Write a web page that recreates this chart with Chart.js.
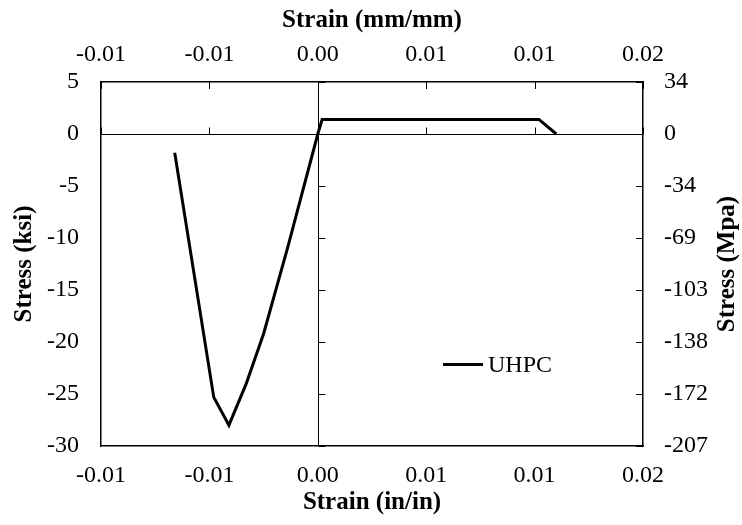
<!DOCTYPE html>
<html>
<head>
<meta charset="utf-8">
<script src="https://cdn.jsdelivr.net/npm/chart.js@4"></script>
<style>
  body { margin: 0; background: #fff; }
  canvas { display: block; }
</style>
</head>
<body>
<canvas id="stressChart" width="742" height="525"></canvas>
<script>
// UHPC stress-strain curve (strain in in/in, stress in ksi)
const strain = [-0.0066, -0.0048, -0.0041, -0.0033, -0.0025, -0.0014, 0, 0.0002, 0.0102, 0.011];
const stress = [-1.8, -25.3, -28.0, -24.0, -19.2, -11.0, 0, 1.4, 1.4, 0];

const strainTickLabels = ['-0.01', '-0.01', '0.00', '0.01', '0.01', '0.02'];
const ksiTickLabels = ['-30', '-25', '-20', '-15', '-10', '-5', '0', '5'];
const mpaTickLabels = ['-207', '-172', '-138', '-103', '-69', '-34', '0', '34'];

const serif = "'Liberation Serif', 'Times New Roman', serif";
const tickFont = { family: serif, size: 24 };
const titleFont = { family: serif, size: 25, weight: 'bold', lineHeight: 1.1 };
const frame = { display: true, color: '#000', width: 1.5 };

// zero lines with inner tick marks, the right title (reads bottom to top) and the legend
const axisMarks = {
    id: 'axisMarks',
    beforeDatasetsDraw(chart) {
        const { ctx, chartArea: a, scales: { x, y } } = chart;
        const x0 = Math.round(x.getPixelForValue(0)) + 0.5;
        const y0 = Math.round(y.getPixelForValue(0)) + 0.5;
        ctx.save();
        ctx.strokeStyle = '#000';
        ctx.lineWidth = 1;
        ctx.beginPath();
        ctx.moveTo(x0, a.top); ctx.lineTo(x0, a.bottom);
        ctx.moveTo(a.left, y0); ctx.lineTo(a.right, y0);
        x.ticks.forEach(t => {
            const px = Math.round(x.getPixelForValue(t.value)) + 0.5;
            ctx.moveTo(px, y0); ctx.lineTo(px, y0 - 7);
            ctx.moveTo(px, a.top); ctx.lineTo(px, a.top + 7);
        });
        y.ticks.forEach(t => {
            const py = Math.round(y.getPixelForValue(t.value)) + 0.5;
            ctx.moveTo(x0, py); ctx.lineTo(x0 + 7, py);
            ctx.moveTo(a.right, py); ctx.lineTo(a.right - 7, py);
        });
        ctx.stroke();
        ctx.restore();
    },
    afterDraw(chart) {
        const { ctx, chartArea: a } = chart;
        const ds = chart.data.datasets[0];
        ctx.save();
        ctx.fillStyle = '#000';
        ctx.font = 'bold 25px ' + serif;
        ctx.textAlign = 'center';
        ctx.textBaseline = 'middle';
        ctx.translate(728, (a.top + a.bottom) / 2);
        ctx.rotate(-Math.PI / 2);
        ctx.fillText('Stress (Mpa)', 0, 0);
        ctx.restore();

        ctx.save();
        ctx.strokeStyle = ds.borderColor;
        ctx.lineWidth = ds.borderWidth;
        ctx.beginPath();
        ctx.moveTo(443, 364.5);
        ctx.lineTo(483, 364.5);
        ctx.stroke();
        ctx.fillStyle = '#000';
        ctx.font = '24px ' + serif;
        ctx.textBaseline = 'middle';
        ctx.fillText(ds.label, 488, 366);
        ctx.restore();
    }
};

const ctx = document.getElementById('stressChart').getContext('2d');
new Chart(ctx, {
    type: 'scatter',
    data: {
        datasets: [{
            label: 'UHPC',
            data: strain.map((s, i) => ({ x: s, y: stress[i] })),
            showLine: true,
            borderColor: '#000',
            borderWidth: 3,
            pointRadius: 0,
            tension: 0
        }]
    },
    options: {
        responsive: false,
        animation: false,
        layout: { padding: 0 },
        plugins: { legend: { display: false }, tooltip: { enabled: false } },
        scales: {
            x: {
                type: 'linear', position: 'bottom', min: -0.01, max: 0.015,
                afterFit: s => { s.height = 79; },
                grid: { display: false, drawTicks: false },
                border: frame,
                ticks: {
                    stepSize: 0.005, padding: 15, color: '#000', font: tickFont,
                    autoSkip: false, maxRotation: 0,
                    callback: (v, i) => strainTickLabels[i]
                },
                title: { display: true, text: 'Strain (in/in)', color: '#000', font: titleFont, padding: { top: 0, bottom: 9 } }
            },
            x2: {
                type: 'linear', position: 'top', min: -0.01, max: 0.015,
                afterFit: s => { s.height = 82; },
                grid: { display: false, drawTicks: false },
                border: frame,
                ticks: {
                    stepSize: 0.005, padding: 13, color: '#000', font: tickFont,
                    autoSkip: false, maxRotation: 0,
                    callback: (v, i) => strainTickLabels[i]
                },
                title: { display: true, text: 'Strain (mm/mm)', color: '#000', font: titleFont, padding: { top: 7, bottom: 0 } }
            },
            y: {
                type: 'linear', position: 'left', min: -30, max: 5,
                afterFit: s => { s.width = 101; },
                grid: { display: false, drawTicks: false },
                border: frame,
                ticks: {
                    stepSize: 5, padding: 22, color: '#000', font: tickFont, autoSkip: false,
                    callback: (v, i) => ksiTickLabels[i]
                },
                title: { display: true, text: 'Stress (ksi)', color: '#000', font: titleFont, padding: { top: 11, bottom: 0 } }
            },
            y2: {
                type: 'linear', position: 'right', min: -30, max: 5,
                afterFit: s => { s.width = 99; },
                grid: { display: false, drawTicks: false },
                border: frame,
                ticks: {
                    stepSize: 5, padding: 21, color: '#000', font: tickFont, autoSkip: false,
                    callback: (v, i) => mpaTickLabels[i]
                },
                title: { display: false }
            }
        }
    },
    plugins: [axisMarks]
});
</script>
</body>
</html>
